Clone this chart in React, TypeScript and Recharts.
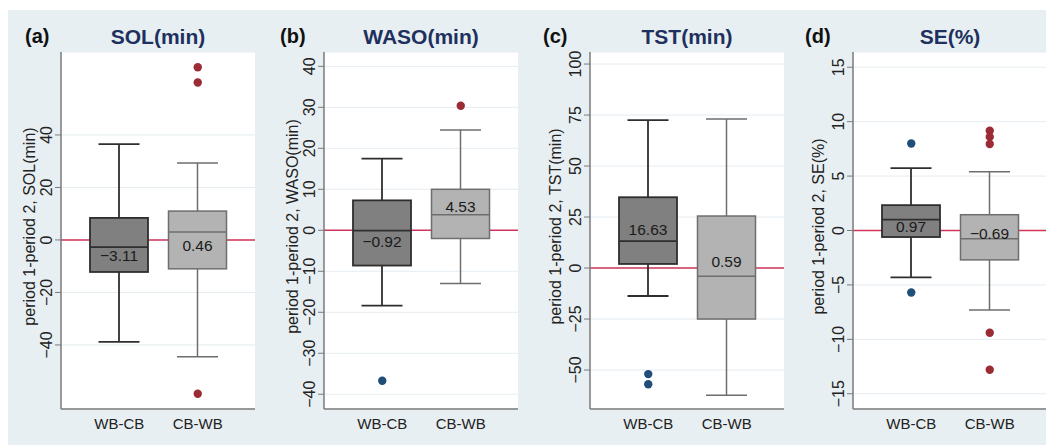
import React from "react";
import {
  ComposedChart,
  Bar,
  Scatter,
  XAxis,
  YAxis,
  CartesianGrid,
} from "recharts";

const GROUPS = ["WB-CB", "CB-WB"];

// per group: [lower whisker, q1, median, q3, upper whisker]
const SOL_STATS = [
  [-38.8, -12.2, -2.7, 8.4, 36.5],
  [-44.5, -11.0, 3.0, 11.0, 29.3],
];
const SOL_MEANS = [-3.11, 0.46];
const SOL_OUTLIERS = [[], [65.8, 60.0, -58.6]];
const SOL_TICKS = [-40, -20, 0, 20, 40];
const SOL_RANGE = [-64.4, 71.6];

const WASO_STATS = [
  [-18.4, -8.6, -0.1, 7.3, 17.5],
  [-13.0, -2.0, 3.8, 10.0, 24.5],
];
const WASO_MEANS = [-0.92, 4.53];
const WASO_OUTLIERS = [[-36.7], [30.4]];
const WASO_TICKS = [-40, -30, -20, -10, 0, 10, 20, 30, 40];
const WASO_RANGE = [-43.6, 43.5];

const TST_STATS = [
  [-13.7, 2.0, 13.2, 34.7, 72.5],
  [-62.3, -25.0, -4.0, 25.5, 73.0],
];
const TST_MEANS = [16.63, 0.59];
const TST_OUTLIERS = [[-52.0, -57.0], []];
const TST_TICKS = [-50, -25, 0, 25, 50, 75, 100];
const TST_RANGE = [-69.1, 105.9];

const SE_STATS = [
  [-4.3, -0.6, 1.0, 2.33, 5.74],
  [-7.3, -2.7, -0.75, 1.45, 5.4],
];
const SE_MEANS = [0.97, -0.69];
const SE_OUTLIERS = [[8.0, -5.7], [9.17, 8.6, 7.95, -9.4, -12.8]];
const SE_TICKS = [-15, -10, -5, 0, 5, 10, 15];
const SE_RANGE = [-16.4, 16.4];

const PANELS = [
  { tag: "(a)", title: "SOL(min)", stats: SOL_STATS, means: SOL_MEANS, outliers: SOL_OUTLIERS, ticks: SOL_TICKS, range: SOL_RANGE },
  { tag: "(b)", title: "WASO(min)", stats: WASO_STATS, means: WASO_MEANS, outliers: WASO_OUTLIERS, ticks: WASO_TICKS, range: WASO_RANGE },
  { tag: "(c)", title: "TST(min)", stats: TST_STATS, means: TST_MEANS, outliers: TST_OUTLIERS, ticks: TST_TICKS, range: TST_RANGE },
  { tag: "(d)", title: "SE(%)", stats: SE_STATS, means: SE_MEANS, outliers: SE_OUTLIERS, ticks: SE_TICKS, range: SE_RANGE },
];

// layout per panel (px)
const PANEL_W = [263, 263, 263, 253];
const AXIS_W = [53, 53, 56, 56];
const TAG_X = [17, 9, 9, 8];
const PLOT_W = 194;
const CHART_H = 435;
const TOP = 42;
const XAXIS_H = 36;

const FONT = '"Liberation Sans", Arial, Helvetica, sans-serif';
const BG = "#e8eff2";
const AXIS = "#7a7a7a";
const ZERO = "#d2345a";

const BOX_STYLE: Record<string, { fill: string; stroke: string; sw: number }> = {
  "WB-CB": { fill: "#808080", stroke: "#2e2e2e", sw: 1.8 },
  "CB-WB": { fill: "#b3b3b3", stroke: "#6e6e6e", sw: 1.5 },
};
const DOT_COLOR = ["#1f4e79", "#9b2c35"];

const fmt = (v: number, digits?: number) => {
  const s = digits === undefined ? String(Math.abs(v)) : Math.abs(v).toFixed(digits);
  return v < 0 ? "\u2212" + s : s;
};

const BoxShape = (props: any) => {
  const { x, y, width, height, payload } = props;
  const top = Math.min(y, y + height);
  const h = Math.abs(height);
  const [q1, q3] = payload.box;
  const k = h / (q3 - q1);
  const toY = (v: number) => top + (q3 - v) * k;
  const cx = x + width / 2;
  const st = BOX_STYLE[payload.group];
  const cap = 20.5;
  const dy = payload.mean > payload.median ? -5 : 7;
  return (
    <g>
      <line x1={cx} x2={cx} y1={toY(payload.hi)} y2={top} stroke={st.stroke} strokeWidth={st.sw} />
      <line x1={cx} x2={cx} y1={top + h} y2={toY(payload.lo)} stroke={st.stroke} strokeWidth={st.sw} />
      <line x1={cx - cap} x2={cx + cap} y1={toY(payload.hi)} y2={toY(payload.hi)} stroke={st.stroke} strokeWidth={st.sw} />
      <line x1={cx - cap} x2={cx + cap} y1={toY(payload.lo)} y2={toY(payload.lo)} stroke={st.stroke} strokeWidth={st.sw} />
      <rect x={x} y={top} width={width} height={h} fill={st.fill} stroke={st.stroke} strokeWidth={st.sw} />
      <line x1={x} x2={x + width} y1={toY(payload.median)} y2={toY(payload.median)} stroke={st.stroke} strokeWidth={st.sw} />
      <text
        x={cx}
        y={toY(payload.mean) + dy}
        textAnchor="middle"
        dominantBaseline="central"
        fontSize={15.5}
        fontFamily={FONT}
        fill="#1a1a1a"
      >
        {fmt(payload.mean, 2)}
      </text>
    </g>
  );
};

const YTick = ({ x, y, payload }: any) => (
  <text
    x={x}
    y={y}
    transform={`rotate(-90 ${x} ${y})`}
    textAnchor="middle"
    fontSize={16}
    fontFamily={FONT}
    fill="#222"
  >
    {fmt(payload.value)}
  </text>
);

const Dot = (color: string) => (p: any) =>
  <circle cx={p.cx} cy={p.cy} r={4.2} fill={color} />;

const Panel = ({ panel, i }: { panel: (typeof PANELS)[number]; i: number }) => {
  const rows = GROUPS.map((g, j) => ({
    group: g,
    box: [panel.stats[j][1], panel.stats[j][3]],
    lo: panel.stats[j][0],
    median: panel.stats[j][2],
    hi: panel.stats[j][4],
    mean: panel.means[j],
  }));
  const dots = GROUPS.map((g, j) => panel.outliers[j].map((v) => ({ group: g, v })));
  const w = PANEL_W[i];
  const axisW = AXIS_W[i];
  const plotH = CHART_H - TOP - XAXIS_H;
  return (
    <div style={{ position: "relative", width: w, height: CHART_H }}>
      <ComposedChart
        width={w}
        height={CHART_H}
        data={rows}
        margin={{ top: TOP, right: w - axisW - PLOT_W, bottom: 0, left: 0 }}
      >
        <CartesianGrid vertical={false} stroke="#e5ecf0" fill="#ffffff" />
        {/* zero reference drawn as a grid line so the boxes sit on top of it */}
        <CartesianGrid vertical={false} horizontalValues={[0]} stroke={ZERO} strokeWidth={1.5} />
        <XAxis
          dataKey="group"
          type="category"
          allowDuplicatedCategory={false}
          padding={{ left: 19, right: 18 }}
          height={XAXIS_H}
          tickLine={false}
          tickSize={6}
          tickMargin={3}
          interval={0}
          axisLine={{ stroke: AXIS, strokeWidth: 1.5 }}
          tick={{ fontSize: 15, fill: "#222", fontFamily: FONT }}
        />
        <YAxis
          type="number"
          domain={panel.range}
          ticks={panel.ticks}
          allowDataOverflow
          width={axisW}
          tickSize={6}
          tickMargin={3}
          axisLine={{ stroke: AXIS, strokeWidth: 1.5 }}
          tickLine={{ stroke: AXIS }}
          tick={<YTick />}
        />
        <Bar dataKey="box" barSize={58} shape={BoxShape} isAnimationActive={false} />
        <Scatter data={dots[0]} dataKey="v" shape={Dot(DOT_COLOR[0])} isAnimationActive={false} />
        <Scatter data={dots[1]} dataKey="v" shape={Dot(DOT_COLOR[1])} isAnimationActive={false} />
      </ComposedChart>
      <svg
        width={w}
        height={CHART_H}
        style={{ position: "absolute", left: 0, top: 0, pointerEvents: "none" }}
      >
        <text x={TAG_X[i]} y={33} fontSize={20} fontWeight="bold" fontFamily={FONT} fill="#111">
          {panel.tag}
        </text>
        <text
          x={axisW + PLOT_W / 2}
          y={34}
          textAnchor="middle"
          fontSize={21}
          fontWeight="bold"
          fontFamily={FONT}
          fill="#1e315e"
        >
          {panel.title}
        </text>
        <text
          x={21.5}
          y={TOP + plotH / 2 - 4}
          transform={`rotate(-90 21.5 ${TOP + plotH / 2 - 4})`}
          textAnchor="middle"
          dominantBaseline="central"
          fontSize={16}
          fontFamily={FONT}
          fill="#222"
        >
          {`period 1-period 2, ${panel.title}`}
        </text>
      </svg>
    </div>
  );
}

export default function App() {
  return (
    <div
      style={{
        display: "flex",
        marginTop: 2,
        width: 1042,
        height: CHART_H,
        background: BG,
        fontFamily: FONT,
      }}
    >
      {PANELS.map((p, i) => (
        <Panel key={p.tag} panel={p} i={i} />
      ))}
    </div>
  );
}
